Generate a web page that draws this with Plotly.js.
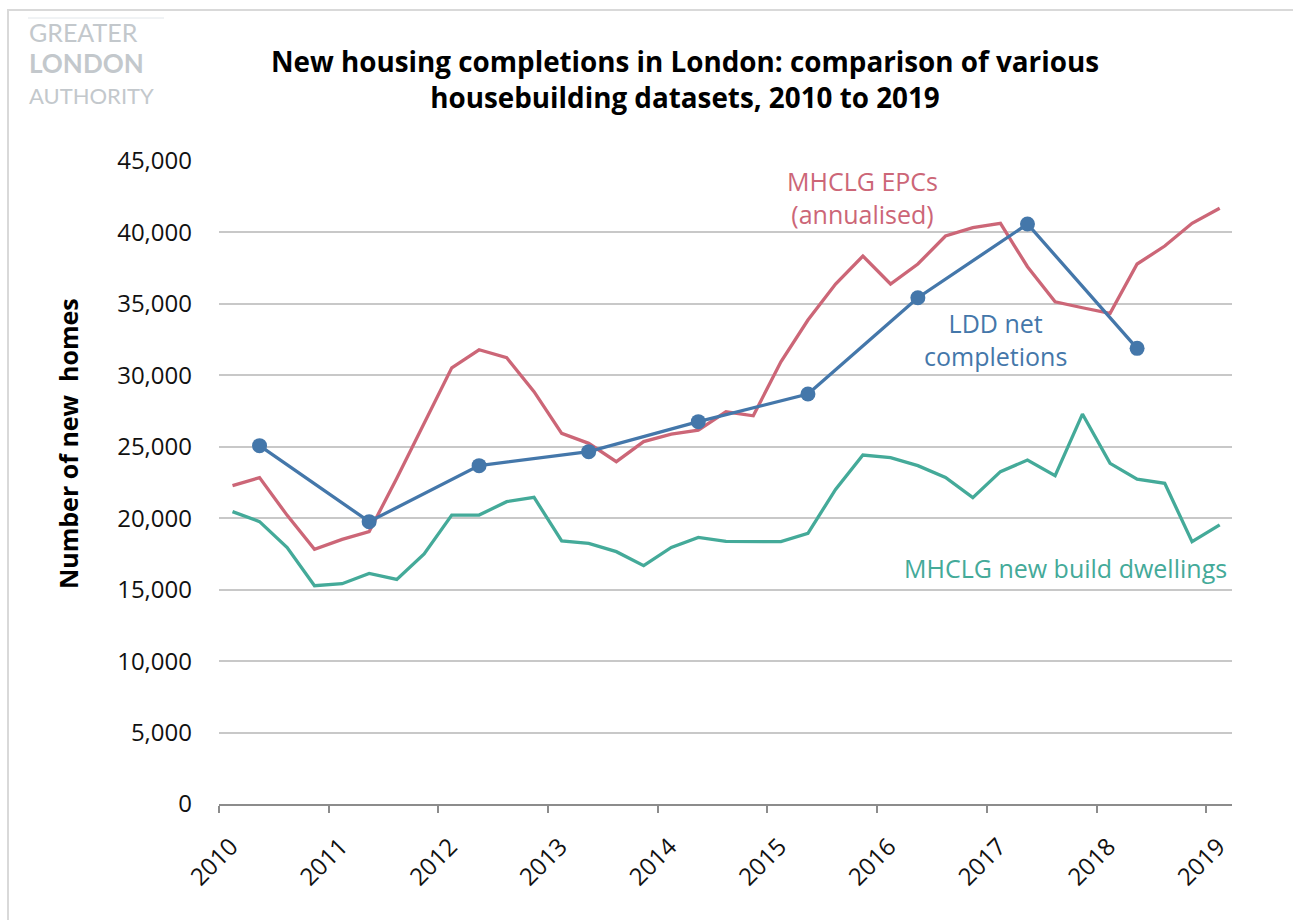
<!DOCTYPE html>
<html>
<head>
<meta charset="utf-8">
<script src="https://cdn.plot.ly/plotly-3.0.1.min.js"></script>
<style>
  html, body { margin: 0; padding: 0; background: #ffffff; }
  #chart { width: 1293px; height: 920px; }
</style>
</head>
<body>
<div id="chart"></div>
<script>
// ---- Data ----
const quarterDates = [
  '2010-02-15','2010-05-16','2010-08-16','2010-11-15',
  '2011-02-15','2011-05-16','2011-08-16','2011-11-15',
  '2012-02-15','2012-05-16','2012-08-16','2012-11-15',
  '2013-02-15','2013-05-16','2013-08-16','2013-11-15',
  '2014-02-15','2014-05-16','2014-08-16','2014-11-15',
  '2015-02-15','2015-05-16','2015-08-16','2015-11-15',
  '2016-02-15','2016-05-16','2016-08-16','2016-11-15',
  '2017-02-15','2017-05-16','2017-08-16','2017-11-15',
  '2018-02-15','2018-05-16','2018-08-16','2018-11-15',
  '2019-02-15'
];

const epcValues = [
  22280, 22840, 20200, 17820,
  18520, 19060, 22800, 26700,
  30530, 31790, 31230, 28860,
  25940, 25240, 23960, 25360,
  25890, 26170, 27450, 27170,
  30950, 33870, 36390, 38350,
  36390, 37790, 39750, 40330,
  40640, 37600, 35150, 34730,
  34340, 37790, 39050, 40640,
  41690
];

const newBuildValues = [
  20460, 19760, 17940, 15280,
  15420, 16140, 15720, 17500,
  20220, 20220, 21160, 21460,
  18410, 18240, 17660, 16680,
  17960, 18660, 18380, 18380,
  18360, 18940, 22020, 24420,
  24240, 23680, 22860, 21440,
  23260, 24070, 22980, 27290,
  23840, 22740, 22440, 18360,
  19530
];

const lddDates = [
  '2010-05-16','2011-05-16','2012-05-16','2013-05-16','2014-05-16',
  '2015-05-16','2016-05-16','2017-05-16','2018-05-16'
];
const lddValues = [25080, 19760, 23680, 24660, 26760, 28690, 35430, 40590, 31890];

const yTickVals = [0, 5000, 10000, 15000, 20000, 25000, 30000, 35000, 40000, 45000];
const yTickText = ['0','5,000','10,000','15,000','20,000','25,000','30,000','35,000','40,000','45,000'];

const titleText = 'New housing completions in London: comparison of various<br>housebuilding datasets, 2010 to 2019';
const yTitleText = 'Number of new\u00a0 homes';
const labelEPC = 'MHCLG EPCs<br>(annualised)';
const labelLDD = 'LDD net<br>completions';
const labelNB = 'MHCLG new build dwellings';
const logoText = '<span style="font-size:25px">GREATER</span><br>' +
                 '<b><span style="font-size:26px">LONDON</span></b><br>' +
                 '<span style="font-size:22px">AUTHORITY</span>';

// ---- Colours / layout helpers ----
const RED = '#CC6677', BLUE = '#4477AA', GREEN = '#44AA99';
const W = 1293, H = 920, ML = 219, MR = 61, MT = 161, MB = 116;
const PW = W - ML - MR, PH = H - MT - MB;
const px = x => (x - ML) / PW;
const py = y => (H - MB - y) / PH;
const FONT = '"Open Sans", "Noto Sans", sans-serif';

const traces = [
  {
    x: quarterDates, y: newBuildValues, type: 'scatter', mode: 'lines',
    line: { color: GREEN, width: 3.3 }, hoverinfo: 'skip'
  },
  {
    x: quarterDates, y: epcValues, type: 'scatter', mode: 'lines',
    line: { color: RED, width: 3.3 }, hoverinfo: 'skip'
  },
  {
    x: lddDates, y: lddValues, type: 'scatter', mode: 'lines+markers',
    line: { color: BLUE, width: 3.3 },
    marker: { color: BLUE, size: 15 }, hoverinfo: 'skip'
  }
];

const logoGrey = '#c3c8cc';
const layout = {
  width: W, height: H,
  margin: { l: ML, r: MR, t: MT, b: MB, pad: 0 },
  paper_bgcolor: '#ffffff', plot_bgcolor: '#ffffff',
  showlegend: false,
  font: { family: FONT, color: '#111111', size: 24 },
  title: {
    text: titleText,
    font: { family: FONT, size: 27.8, color: '#000000', weight: 700 },
    x: 685 / W, xref: 'container', xanchor: 'center',
    y: 1 - 72 / H, yref: 'container', yanchor: 'top'
  },
  xaxis: {
    type: 'date',
    range: ['2010-01-01', '2019-03-28'],
    tick0: '2010-01-01', dtick: 'M12', tickformat: '%Y',
    tickangle: -45,
    ticks: 'outside', ticklen: 7, tickwidth: 2, tickcolor: '#8c8c8c',
    ticklabelstandoff: 10, ticklabelshift: 12,
    showline: true, linecolor: '#8c8c8c', linewidth: 2,
    showgrid: false, zeroline: false,
    tickfont: { family: FONT, size: 24, color: '#111111' },
    fixedrange: true
  },
  yaxis: {
    range: [0, 45000],
    tickvals: yTickVals, ticktext: yTickText,
    showgrid: true, gridcolor: '#c8c8c8', gridwidth: 2,
    zeroline: false, showline: false, ticks: '',
    ticklabelstandoff: 26,
    tickfont: { family: FONT, size: 24, color: '#111111' },
    fixedrange: true
  },
  shapes: [
    { type: 'rect', xref: 'paper', yref: 'paper',
      x0: px(8), x1: px(1310), y0: py(10), y1: py(940),
      line: { color: '#d9d9d9', width: 2 }, fillcolor: 'rgba(0,0,0,0)', layer: 'below' },
    { type: 'line', xref: 'paper', yref: 'paper',
      x0: px(28), x1: px(164), y0: py(18), y1: py(18),
      line: { color: '#e1e6ea', width: 1 } }
  ],
  annotations: [
    { text: logoText, xref: 'paper', yref: 'paper', x: px(27), y: py(63),
      xanchor: 'left', yanchor: 'middle', align: 'left', showarrow: false,
      font: { family: '"Lato", "Open Sans", sans-serif', size: 24, color: logoGrey } },
    { text: yTitleText, xref: 'paper', yref: 'paper', x: px(68), y: py(444),
      xanchor: 'center', yanchor: 'middle', textangle: -90, showarrow: false,
      font: { family: FONT, size: 25, color: '#000000', weight: 700 } },
    { text: labelEPC, xref: 'paper', yref: 'paper', x: px(862), y: py(197),
      xanchor: 'center', yanchor: 'middle', showarrow: false,
      font: { family: FONT, size: 25, color: RED } },
    { text: labelLDD, xref: 'paper', yref: 'paper', x: px(995), y: py(339),
      xanchor: 'center', yanchor: 'middle', showarrow: false,
      font: { family: FONT, size: 25, color: BLUE } },
    { text: labelNB, xref: 'paper', yref: 'paper', x: px(1229), y: py(568),
      xanchor: 'right', yanchor: 'middle', showarrow: false,
      font: { family: FONT, size: 25, color: GREEN } }
  ]
};

Plotly.newPlot('chart', traces, layout, { staticPlot: true, displayModeBar: false });
</script>
</body>
</html>
